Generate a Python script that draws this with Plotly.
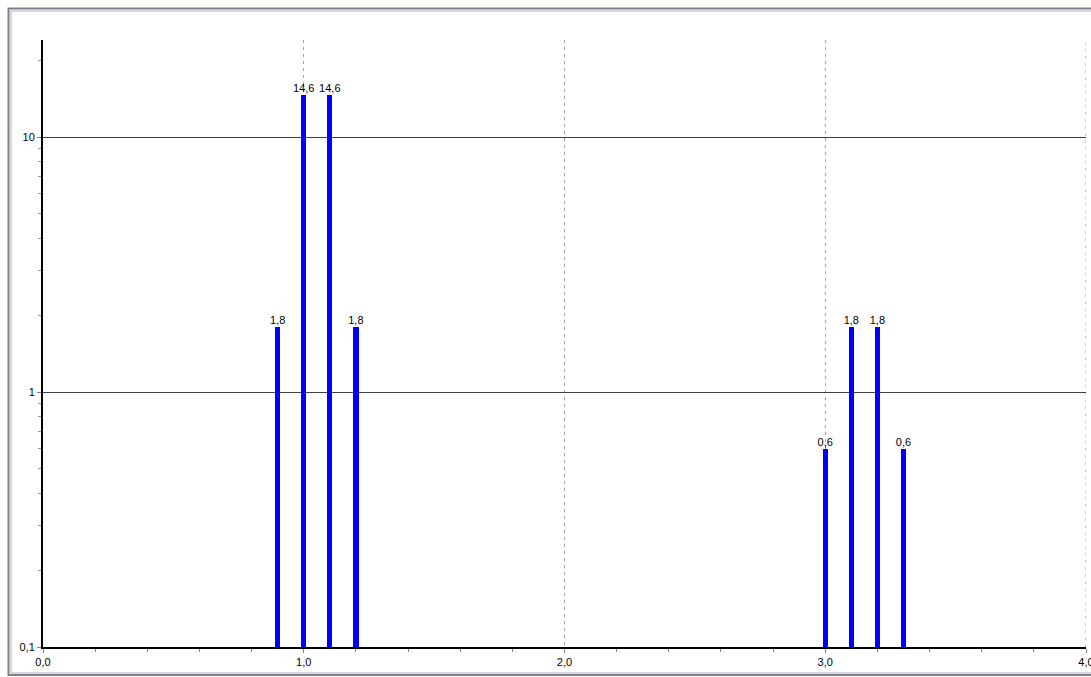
import plotly.graph_objects as go

# Measurement positions and values
x_vals = [0.9, 1.0, 1.1, 1.2, 3.0, 3.1, 3.2, 3.3]
y_vals = [1.8, 14.6, 14.6, 1.8, 0.6, 1.8, 1.8, 0.6]

# Axis tick labels
x_ticks = [0, 1, 2, 3, 4]
x_tick_text = ["0,0", "1,0", "2,0", "3,0", "4,0"]
y_ticks = [0.1, 1, 10]
y_tick_text = ["0,1", "1", "10"]
y_minor_ticks = [0.2, 0.3, 0.4, 0.5, 0.6, 0.7, 0.8, 0.9,
                 2, 3, 4, 5, 6, 7, 8, 9, 20]

W, H = 1091, 677
ML, MR, MT, MB = 43, 5, 40, 30
PW, PH = W - ML - MR, H - MT - MB
FONT = "Liberation Sans, Arial, sans-serif"


def px_x(p):
    return (p - ML) / PW


def px_y(p):
    return (H - MB - p) / PH


fig = go.Figure()
fig.add_trace(go.Bar(
    x=x_vals, y=y_vals, width=0.02,
    marker=dict(color="#0000FF", line=dict(width=0)),
    hoverinfo="x+y",
))
# Value labels above each bar
fig.add_trace(go.Scatter(
    x=x_vals, y=y_vals, mode="text",
    texttemplate="%{y:.1f}", textposition="top center",
    textfont=dict(family=FONT, size=11, color="black"),
    cliponaxis=False, hoverinfo="skip",
))

# Dashed gridline on the right edge of the x range
fig.add_shape(type="line", xref="x", yref="paper", x0=4, x1=4, y0=0, y1=1,
              line=dict(color="#A0A0A0", width=1, dash="3px,4px"), layer="below")

# Window-style frame around the chart
fig.add_shape(type="rect", xref="paper", yref="paper",
              x0=px_x(8.5), x1=px_x(1098), y0=px_y(675), y1=px_y(8.5),
              line=dict(color="#808080", width=2), layer="below")
fig.add_shape(type="rect", xref="paper", yref="paper",
              x0=px_x(11), x1=px_x(1096), y0=px_y(673), y1=px_y(11),
              line=dict(color="#C8C8E0", width=1.5), layer="below")

fig.update_layout(
    width=W, height=H,
    margin=dict(l=ML, r=MR, t=MT, b=MB, pad=0, autoexpand=False),
    paper_bgcolor="white", plot_bgcolor="white",
    showlegend=False, separators=",.",
    font=dict(family=FONT, size=11, color="black"),
    bargap=0,
)
fig.update_xaxes(
    range=[0, 4], tickvals=x_ticks, ticktext=x_tick_text,
    ticklabeloverflow="allow", automargin=False,
    showline=True, linecolor="black", linewidth=2,
    ticks="outside", ticklen=4, tickcolor="#808080",
    showgrid=True, gridcolor="#A0A0A0", gridwidth=1, griddash="3px,4px",
    minor=dict(dtick=0.2, ticks="outside", ticklen=3, tickcolor="#808080", showgrid=False),
    zeroline=False,
)
fig.update_yaxes(
    type="log", range=[-1, 1.381], tickvals=y_ticks, ticktext=y_tick_text,
    automargin=False,
    showline=True, linecolor="black", linewidth=2,
    ticks="outside", ticklen=4, tickcolor="#808080",
    showgrid=True, gridcolor="#404040", gridwidth=1,
    minor=dict(tickmode="array", tickvals=y_minor_ticks, ticks="outside",
               ticklen=3, tickcolor="#909090", showgrid=False),
    zeroline=False,
)

fig.write_html("out.html")
